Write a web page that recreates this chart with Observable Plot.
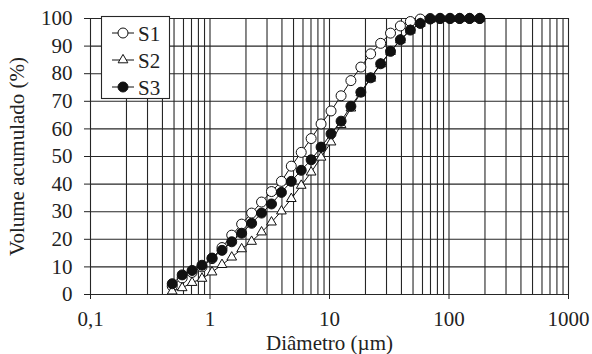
<!DOCTYPE html>
<html>
<head>
<meta charset="utf-8">
<script src="https://cdn.jsdelivr.net/npm/d3@7"></script>
<script src="https://cdn.jsdelivr.net/npm/@observablehq/plot@0.6"></script>
<style>
  html, body { margin: 0; padding: 0; background: #fff; }
  #chart { width: 592px; height: 354px; }
  #chart svg, #chart svg text { font-family: "Liberation Serif", "Times New Roman", Times, "DejaVu Serif", serif !important; }
</style>
</head>
<body>
<div id="chart"></div>
<script>
// Particle diameters (µm)
const diameters = [0.483, 0.585, 0.708, 0.857, 1.04, 1.26, 1.52, 1.84, 2.23, 2.70,
  3.27, 3.96, 4.79, 5.80, 7.02, 8.50, 10.3, 12.5, 15.1, 18.3,
  22.1, 26.8, 32.4, 39.2, 47.5, 57.5, 69.6, 84.2, 102, 123, 149, 181];
const seriesNames = ["S1", "S2", "S3"];
// Cumulative volume (%)
const s1 = [3.0, 6.0, 8.0, 10.0, 13.0, 17.0, 21.5, 25.5, 29.5, 33.5,
  37.3, 41.0, 46.5, 51.5, 56.5, 61.8, 66.5, 72.0, 77.5, 82.4,
  87.2, 91.0, 94.7, 97.3, 98.9, 99.8, 100, 100, 100, 100, 100, 100];
const s2 = [1.2, 2.4, 4.3, 5.8, 8.1, 10.8, 13.5, 16.5, 19.2, 22.6,
  26.2, 30.2, 34.7, 39.5, 44.3, 49.7, 55.2, 61.5, 67.5, 73.0,
  78.3, 83.5, 88.0, 92.2, 95.7, 98.2, 99.7, 100, 100, 100, 100, 100];
const s3 = [3.9, 7.1, 8.7, 10.6, 13.2, 16.0, 19.1, 22.2, 25.8, 29.5,
  32.8, 37.0, 41.0, 45.0, 48.8, 53.4, 58.2, 62.8, 68.2, 73.3,
  78.5, 83.6, 88.1, 92.3, 95.8, 98.2, 99.8, 100, 100, 100, 100, 100];
const yTicks = [0, 10, 20, 30, 40, 50, 60, 70, 80, 90, 100];
const xTicks = [0.1, 1, 10, 100, 1000];
const xTickLabels = ["0,1", "1", "10", "100", "1000"];

const toRows = (vals, s) => diameters.map((d, i) => ({d, v: vals[i], s}));
const rows1 = toRows(s1, "S1");
const rows2 = toRows(s2, "S2");
const rows3 = toRows(s3, "S3");

// grid positions for a log axis: 1..9 in each decade
const gridX = [];
for (let e = -1; e < 3; e++) for (let m = 1; m < 10; m++) gridX.push(+(m * Math.pow(10, e)).toPrecision(3));
gridX.push(1000);

const gridColor = "#262626";
const ink = "#222";
const serif = "'Liberation Serif', 'Times New Roman', Times, 'DejaVu Serif', serif";

const chart = Plot.plot({
  width: 592,
  height: 354,
  marginLeft: 90,
  marginRight: 24,
  marginTop: 18,
  marginBottom: 60,
  style: {fontFamily: serif, fontSize: "21px", color: ink, background: "#fff"},
  x: {type: "log", domain: [0.1, 1000]},
  y: {domain: [0, 100]},
  marks: [
    Plot.gridX(gridX, {stroke: gridColor, strokeOpacity: 1, strokeWidth: 1.1}),
    Plot.gridY(yTicks, {stroke: gridColor, strokeOpacity: 1, strokeWidth: 1.1}),
    Plot.axisX(xTicks, {
      tickSize: 5, tickPadding: 12, fontFamily: serif,
      tickFormat: d => xTickLabels[xTicks.indexOf(d)],
      label: "Diâmetro (µm)", labelAnchor: "center", labelArrow: "none", labelOffset: 55
    }),
    Plot.axisY(yTicks, {
      tickSize: 6, tickPadding: 12, fontFamily: serif,
      label: "Volume acumulado (%)", labelAnchor: "center", labelArrow: "none", labelOffset: 81
    }),
    Plot.line(rows1, {x: "d", y: "v", stroke: "#111", strokeWidth: 1}),
    Plot.dot(rows1, {x: "d", y: "v", r: 5, fill: "#fff", stroke: "#111", strokeWidth: 1}),
    Plot.line(rows2, {x: "d", y: "v", stroke: "#111", strokeWidth: 1}),
    Plot.dot(rows2, {x: "d", y: "v", symbol: "triangle", r: 3.6, fill: "#fff", stroke: "#111", strokeWidth: 1}),
    Plot.line(rows3, {x: "d", y: "v", stroke: "#111", strokeWidth: 1}),
    Plot.dot(rows3, {x: "d", y: "v", r: 5, fill: "#111", stroke: "#111", strokeWidth: 1})
  ]
});

// Legend box (inside the plot, top-left)
const svg = d3.select(chart);
const lg = svg.append("g").attr("transform", "translate(101,16)");
lg.append("rect").attr("x", 0.5).attr("y", 0.5).attr("width", 68).attr("height", 82)
  .attr("fill", "#fff").attr("stroke", gridColor).attr("stroke-width", 1.1);
const legendSymbols = [
  {sym: d3.symbolCircle, size: Math.PI * 25, fill: "#fff"},
  {sym: d3.symbolTriangle, size: Math.PI * 3.6 * 3.6, fill: "#fff"},
  {sym: d3.symbolCircle, size: Math.PI * 25, fill: "#111"}
];
seriesNames.forEach((name, i) => {
  const g = lg.append("g").attr("transform", `translate(0,${17 + i * 27})`);
  g.append("line").attr("x1", 11).attr("x2", 33).attr("y1", 0).attr("y2", 0)
    .attr("stroke", "#111").attr("stroke-width", 1);
  g.append("path").attr("transform", "translate(22,0)")
    .attr("d", d3.symbol(legendSymbols[i].sym, legendSymbols[i].size)())
    .attr("fill", legendSymbols[i].fill).attr("stroke", "#111").attr("stroke-width", 1);
  g.append("text").attr("x", 37).attr("y", 0).attr("dy", "0.36em")
    .attr("text-anchor", "start")
    .attr("fill", ink).style("font-size", "21px").text(name);
});

document.getElementById("chart").appendChild(chart);
</script>
</body>
</html>
